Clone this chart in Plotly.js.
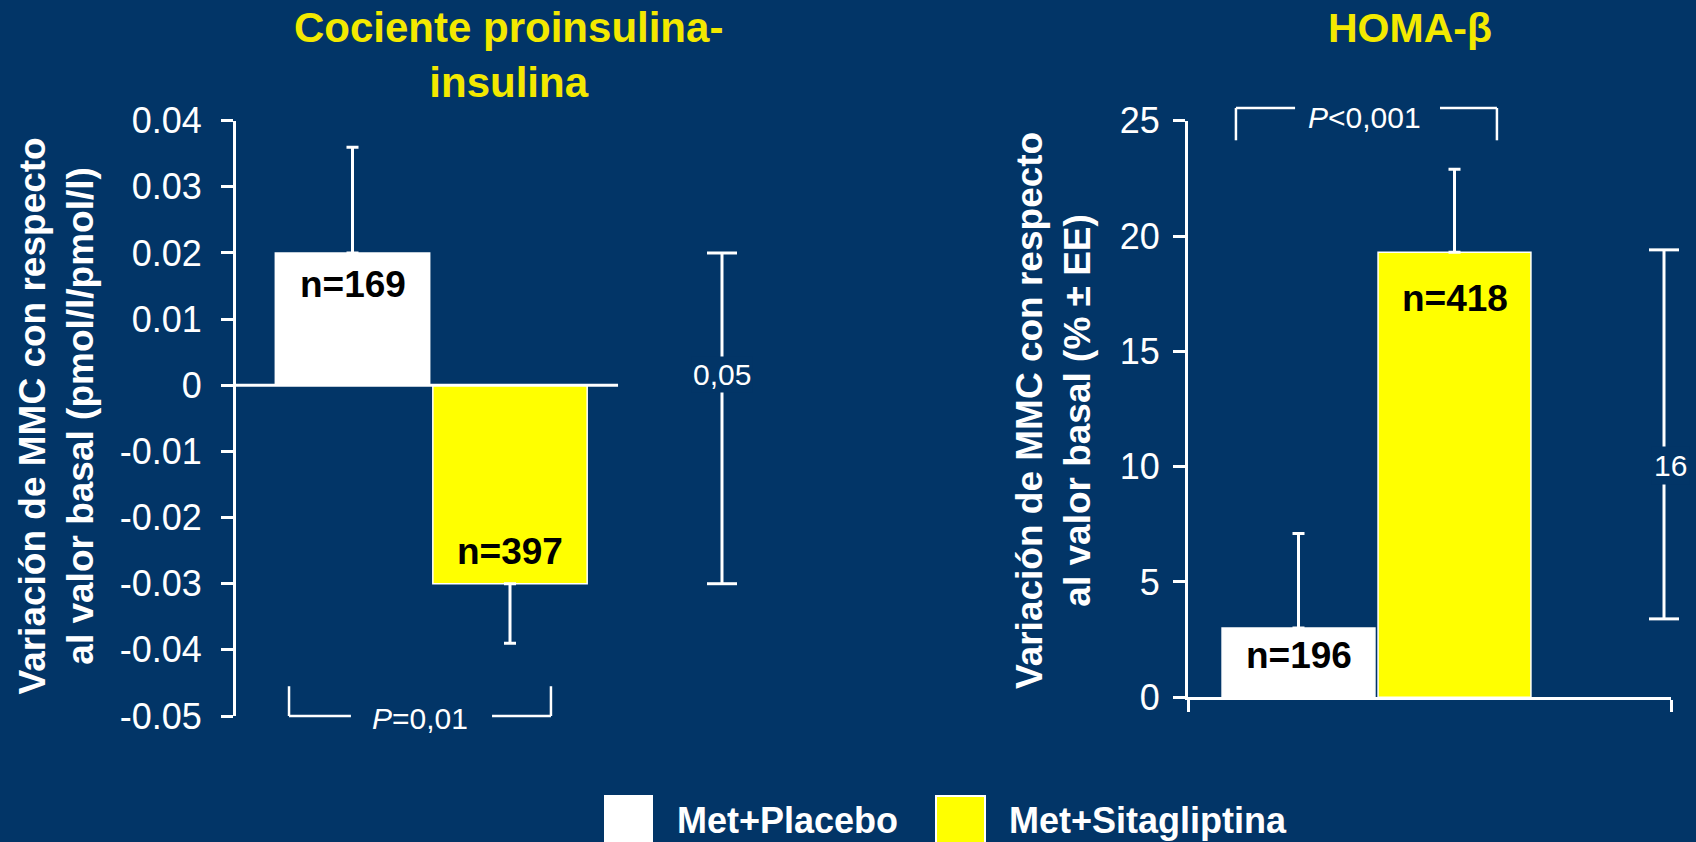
<!DOCTYPE html>
<html>
<head>
<meta charset="utf-8">
<script src="https://cdn.plot.ly/plotly-3.0.1.min.js"></script>
<style>
  html, body { margin: 0; padding: 0; background: #023567; }
  #chart { width: 1696px; height: 842px; }
</style>
</head>
<body>
<div id="chart"></div>
<script>
// ---- Data ----------------------------------------------------------------
// Treatment groups
const groups = ['Met+Placebo', 'Met+Sitagliptina'];

// Proinsulin/insulin ratio: change from baseline (pmol/l/pmol/l)
const ratioMean = [0.020, -0.030];
const ratioErrUp = [0.016, 0];
const ratioErrDown = [0, 0.009];
const ratioN = ['n=169', 'n=397'];
const ratioTickVals = [0.04, 0.03, 0.02, 0.01, 0, -0.01, -0.02, -0.03, -0.04, -0.05];
const ratioTickText = ['0.04', '0.03', '0.02', '0.01', '0', '-0.01', '-0.02', '-0.03', '-0.04', '-0.05'];
const ratioDiffLabel = '0,05';
const ratioPLabel = '<i>P</i>=0,01';

// HOMA-β: change from baseline (% ± EE)
const homaMean = [3.0, 19.3];
const homaErrUp = [4.1, 3.6];
const homaErrDown = [0, 0];
const homaN = ['n=196', 'n=418'];
const homaTickVals = [0, 5, 10, 15, 20, 25];
const homaTickText = ['0', '5', '10', '15', '20', '25'];
const homaDiffSpan = [3.4, 19.4];
const homaDiffLabel = '16';
const homaPLabel = '<i>P</i>&lt;0,001';

// ---- Styles & geometry -----------------------------------------------------
const W = 1696, H = 842;
const BG = '#023567';
const WHITE = '#ffffff';
const BAR_COLORS = ['#ffffff', '#ffff00'];
const TITLE_YELLOW = '#f3e900';
const FONT = 'Liberation Sans, Arial, Helvetica, sans-serif';
const CAP = 15; // half width of bracket caps, px

// Panel boxes in pixels: centre of first bar, px per category, plot box
const panelPx = {
  left:  { c1: 352.5,  unit: 157.5, x0: 236,  x1: 762,  yTop: 120.7, yBot: 716,   range: [-0.05, 0.04] },
  right: { c1: 1298.5, unit: 156,   x0: 1188, x1: 1671, yTop: 120.7, yBot: 697.3, range: [0, 25] }
};

function axisSetup(p) {
  return {
    xdomain: [p.x0 / W, p.x1 / W],
    xrange: [1 + (p.x0 - p.c1) / p.unit, 1 + (p.x1 - p.c1) / p.unit],
    ydomain: [1 - p.yBot / H, 1 - p.yTop / H],
    yrange: p.range
  };
}
const L = axisSetup(panelPx.left);
const R = axisSetup(panelPx.right);

// Linear data -> paper mapping (same as the axes' own linear scale)
function px(a, v) {
  return a.xdomain[0] + (v - a.xrange[0]) / (a.xrange[1] - a.xrange[0]) * (a.xdomain[1] - a.xdomain[0]);
}
function py(a, v) {
  return a.ydomain[0] + (v - a.yrange[0]) / (a.yrange[1] - a.yrange[0]) * (a.ydomain[1] - a.ydomain[0]);
}

// Bracket placement (category units along x)
const ratioDiffX = 3.346;
const ratioPBracket = { x: [0.597, 2.26], gap: [0.99, 1.886], yLine: -0.05, yFoot: -0.0455, textX: 1.428, shift: -2 };
const homaDiffX = 3.343;
const homaPBracket = { x: [0.599, 2.272], gap: [0.978, 1.907], yLine: 25.55, yFoot: 24.15, textX: 1.42, shift: -9 };

const catX = [1, 2];

// ---- Traces ------------------------------------------------------------------
function barTrace(i, mean, up, down, xa, ya) {
  return {
    type: 'bar',
    x: [catX[i]],
    y: [mean[i]],
    width: 0.98,
    name: groups[i],
    xaxis: xa, yaxis: ya,
    marker: { color: BAR_COLORS[i], line: { color: WHITE, width: 1.5 } },
    error_y: {
      type: 'data', symmetric: false,
      array: [up[i]], arrayminus: [down[i]],
      color: WHITE, thickness: 3, width: 6
    },
    showlegend: false,
    hoverinfo: 'skip'
  };
}

const traces = [
  barTrace(0, ratioMean, ratioErrUp, ratioErrDown, 'x', 'y'),
  barTrace(1, ratioMean, ratioErrUp, ratioErrDown, 'x', 'y'),
  barTrace(0, homaMean, homaErrUp, homaErrDown, 'x2', 'y2'),
  barTrace(1, homaMean, homaErrUp, homaErrDown, 'x2', 'y2')
];

// ---- Shapes --------------------------------------------------------------------
const shapes = [];
function seg(x0, y0, x1, y1, w) {
  shapes.push({ type: 'line', xref: 'paper', yref: 'paper', x0, y0, x1, y1,
    line: { color: WHITE, width: w } });
}

// zero line of the ratio panel
const ratioZeroEnd = 2.686;
seg(px(L, L.xrange[0]), py(L, 0), px(L, ratioZeroEnd), py(L, 0), 3);

// difference bracket, ratio panel (spans the two group means)
(function () {
  const x = px(L, ratioDiffX), c = CAP / W;
  const yA = py(L, ratioMean[1]), yB = py(L, ratioMean[0]);
  seg(x, yA, x, yB, 3);
  seg(x - c, yA, x + c, yA, 3);
  seg(x - c, yB, x + c, yB, 3);
})();

// difference bracket, HOMA-β panel
(function () {
  const x = px(R, homaDiffX), c = CAP / W;
  const yA = py(R, homaDiffSpan[0]), yB = py(R, homaDiffSpan[1]);
  seg(x, yA, x, yB, 3);
  seg(x - c, yA, x + c, yA, 3);
  seg(x - c, yB, x + c, yB, 3);
})();

// P-value brackets
function pBracket(a, b) {
  const yl = py(a, b.yLine), yf = py(a, b.yFoot);
  const xl = px(a, b.x[0]), xr = px(a, b.x[1]);
  seg(xl, yf, xl, yl, 2.5);
  seg(xr, yf, xr, yl, 2.5);
  seg(xl, yl, px(a, b.gap[0]), yl, 2.5);
  seg(px(a, b.gap[1]), yl, xr, yl, 2.5);
}
pBracket(L, ratioPBracket);
pBracket(R, homaPBracket);

// legend swatches
const legendSwatch = [
  { x0: 605, x1: 652, label: 675 },
  { x0: 936, x1: 985, label: 1007 }
];
legendSwatch.forEach((s, i) => {
  shapes.push({ type: 'rect', xref: 'paper', yref: 'paper',
    x0: s.x0 / W, x1: s.x1 / W, y0: 1 - 796 / H, y1: -0.02,
    fillcolor: BAR_COLORS[i], line: { color: WHITE, width: 2 } });
});

// ---- Annotations ----------------------------------------------------------------
const annotations = [];
function note(o) {
  annotations.push(Object.assign({ showarrow: false, xanchor: 'center', yanchor: 'middle' }, o));
}

// panel titles
note({ xref: 'paper', yref: 'paper', x: 508 / W, y: 1 - 55 / H,
  text: 'Cociente proinsulina-<br>insulina',
  font: { family: FONT, size: 42, color: TITLE_YELLOW, weight: 700 } });
note({ xref: 'paper', yref: 'paper', x: 1410 / W, y: 1 - 28 / H,
  text: 'HOMA-β',
  font: { family: FONT, size: 41, color: TITLE_YELLOW, weight: 700 } });

// axis titles
note({ xref: 'paper', yref: 'paper', x: 55.5 / W, y: 1 - 416 / H, textangle: -90,
  text: 'Variación de MMC con respecto<br>al valor basal (pmol/l/pmol/l)',
  font: { family: FONT, size: 37, color: WHITE, weight: 700 } });
note({ xref: 'paper', yref: 'paper', x: 1054 / W, y: 1 - 411 / H, textangle: -90,
  text: 'Variación de MMC con respecto<br>al valor basal (% ± EE)',
  font: { family: FONT, size: 37, color: WHITE, weight: 700 } });

// sample sizes inside the bars
const nFont = { family: FONT, size: 37, color: '#000000', weight: 700 };
const ratioNShift = [-32, 32];
const homaNShift = [-27, -46];
[0, 1].forEach(i => {
  note({ xref: 'x', yref: 'y', x: catX[i], y: ratioMean[i], yshift: ratioNShift[i], text: ratioN[i], font: nFont });
  note({ xref: 'x2', yref: 'y2', x: catX[i], y: homaMean[i], yshift: homaNShift[i], text: homaN[i], font: nFont });
});

// bracket labels
const smallFont = { family: FONT, size: 30, color: WHITE };
note({ xref: 'x', yref: 'y', x: ratioDiffX, y: 0.0016, text: ratioDiffLabel, font: smallFont,
  bgcolor: BG, borderpad: 1 });
note({ xref: 'x2', yref: 'y2', x: homaDiffX + 0.04, y: 10.07, text: homaDiffLabel, font: smallFont,
  bgcolor: BG, borderpad: 2 });
[[L, ratioPBracket, ratioPLabel], [R, homaPBracket, homaPLabel]].forEach(([a, b, t]) => {
  note({ xref: 'paper', yref: 'paper', x: px(a, b.textX), y: py(a, b.yLine), yshift: b.shift,
    text: t, font: smallFont });
});

// legend labels
legendSwatch.forEach((s, i) => {
  note({ xref: 'paper', yref: 'paper', x: s.label / W, y: 1 - 820 / H, xanchor: 'left',
    text: groups[i], font: { family: FONT, size: 36, color: WHITE, weight: 700 } });
});

// ---- Layout ----------------------------------------------------------------------
const yAxisBase = {
  showline: true, linecolor: WHITE, linewidth: 3,
  ticks: 'outside', ticklen: 12, tickwidth: 3, tickcolor: WHITE,
  tickmode: 'array',
  tickfont: { family: FONT, size: 36, color: WHITE },
  showgrid: false, zeroline: false, fixedrange: true
};

const layout = {
  width: W, height: H,
  margin: { l: 0, r: 0, t: 0, b: 0 },
  paper_bgcolor: BG, plot_bgcolor: BG,
  font: { family: FONT, color: WHITE },
  showlegend: false,
  barmode: 'overlay',
  xaxis: { domain: L.xdomain, range: L.xrange, visible: false, fixedrange: true, anchor: 'y' },
  yaxis: Object.assign({}, yAxisBase, { domain: L.ydomain, range: L.yrange, anchor: 'x',
    tickvals: ratioTickVals, ticktext: ratioTickText, ticklabelstandoff: 12 }),
  xaxis2: { domain: R.xdomain, range: R.xrange, anchor: 'y2',
    showline: true, linecolor: WHITE, linewidth: 3,
    ticks: 'outside', ticklen: 12, tickwidth: 3, tickcolor: WHITE,
    tickmode: 'array', tickvals: R.xrange, showticklabels: false,
    showgrid: false, zeroline: false, fixedrange: true },
  yaxis2: Object.assign({}, yAxisBase, { domain: R.ydomain, range: R.yrange, anchor: 'x2',
    tickvals: homaTickVals, ticktext: homaTickText, ticklabelstandoff: 6 }),
  shapes: shapes,
  annotations: annotations
};

Plotly.newPlot('chart', traces, layout, { staticPlot: true, displayModeBar: false });
</script>
</body>
</html>
